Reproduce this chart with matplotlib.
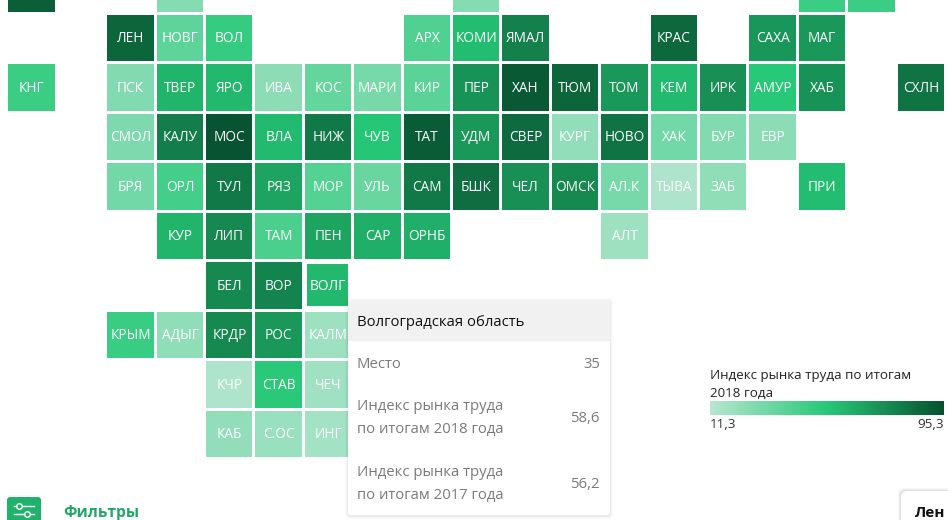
#!/usr/bin/env python3
# -*- coding: utf-8 -*-
"""Tile map: labour market index of Russian regions, 2018"""

import matplotlib
matplotlib.use('Agg')
import matplotlib.pyplot as plt
import numpy as np
from matplotlib.cm import ScalarMappable
from matplotlib.colors import LinearSegmentedColormap, Normalize
from matplotlib.patches import FancyBboxPatch, Rectangle

plt.rcParams['font.family'] = ['Open Sans', 'DejaVu Sans']

__ = None
# grid of regions, one list per map row (the top row is cut off in the picture)
grid_labels = [
    ['', __, __, '', __, __, __, __, __, '', __, __, __, __, __, __, '', '', __],
    [__, __, 'ЛЕН', 'НОВГ', 'ВОЛ', __, __, __, 'АРХ', 'КОМИ', 'ЯМАЛ', __, __, 'КРАС', __, 'САХА', 'МАГ', __, __],
    ['КНГ', __, 'ПСК', 'ТВЕР', 'ЯРО', 'ИВА', 'КОС', 'МАРИ', 'КИР', 'ПЕР', 'ХАН', 'ТЮМ', 'ТОМ', 'КЕМ', 'ИРК', 'АМУР', 'ХАБ', __, 'СХЛН'],
    [__, __, 'СМОЛ', 'КАЛУ', 'МОС', 'ВЛА', 'НИЖ', 'ЧУВ', 'ТАТ', 'УДМ', 'СВЕР', 'КУРГ', 'НОВО', 'ХАК', 'БУР', 'ЕВР', __, __, __],
    [__, __, 'БРЯ', 'ОРЛ', 'ТУЛ', 'РЯЗ', 'МОР', 'УЛЬ', 'САМ', 'БШК', 'ЧЕЛ', 'ОМСК', 'АЛ.К', 'ТЫВА', 'ЗАБ', __, 'ПРИ', __, __],
    [__, __, __, 'КУР', 'ЛИП', 'ТАМ', 'ПЕН', 'САР', 'ОРНБ', __, __, __, 'АЛТ', __, __, __, __, __, __],
    [__, __, __, __, 'БЕЛ', 'ВОР', 'ВОЛГ', __, __, __, __, __, __, __, __, __, __, __, __],
    [__, __, 'КРЫМ', 'АДЫГ', 'КРДР', 'РОС', 'КАЛМ', __, __, __, __, __, __, __, __, __, __, __, __],
    [__, __, __, __, 'КЧР', 'СТАВ', 'ЧЕЧ', __, __, __, __, __, __, __, __, __, __, __, __],
    [__, __, __, __, 'КАБ', 'С.ОС', 'ИНГ', __, __, __, __, __, __, __, __, __, __, __, __],
]
grid_values = [
    [90, __, __, 26, __, __, __, __, __, 26, __, __, __, __, __, __, 47, 47, __],
    [__, __, 88, 37, 49, __, __, __, 41, 57, 78, __, __, 87, __, 71, 70, __, __],
    [47, __, 27, 60, 59, 24, 35, 30, 38, 72, 92, 88, 70, 58, 73, 53, 72, __, 83],
    [__, __, 28, 79, 94, 58, 81, 54, 91, 70, 86, 22, 83, 31, 27, 24, __, __, __],
    [__, __, 31, 45, 81, 66, 40, 34, 81, 85, 73, 75, 30, 14, 23, __, 57, __, __],
    [__, __, __, 60, 75, 43, 66, 62, 62, __, __, __, 19, __, __, __, __, __, __],
    [__, __, __, __, 75, 77, 58.6, __, __, __, __, __, __, __, __, __, __, __, __],
    [__, __, 48, 23, 75, 70, 19, __, __, __, __, __, __, __, __, __, __, __, __],
    [__, __, __, __, 14, 52, 18, __, __, __, __, __, __, __, __, __, __, __, __],
    [__, __, __, __, 22, 20, 17, __, __, __, __, __, __, __, __, __, __, __, __],
]

scale_min, scale_max = 11.3, 95.3
scale_title = ['Индекс рынка труда по итогам', '2018 года']
scale_labels = ['11,3', '95,3']

tooltip_title = 'Волгоградская область'
tooltip_place = ('Место', '35')
tooltip_2018 = (['Индекс рынка труда', 'по итогам 2018 года'], '58,6')
tooltip_2017 = (['Индекс рынка труда', 'по итогам 2017 года'], '56,2')
filters_label = 'Фильтры'
card_label = 'Лен'

cmap = LinearSegmentedColormap.from_list('index', ['#b7e6d1', '#26c877', '#07502f'])
norm = Normalize(scale_min, scale_max)

fig = plt.figure(figsize=(9.48, 5.20), dpi=100)

# tile grid, axes in grid units so one cell = 49.4 x 49.5 px
ax = fig.add_axes([0, 0, 1, 1])
ax.set_xlim(-6.3 / 49.4, (948 - 6.3) / 49.4)
ax.set_ylim((520 + 37) / 49.5, 37 / 49.5)
ax.axis('off')

data = np.ma.masked_invalid(np.array(grid_values, dtype=float))
ax.pcolormesh(np.arange(data.shape[1] + 1), np.arange(data.shape[0] + 1), data,
              cmap=cmap, norm=norm, edgecolors='white', linewidth=1.0)

for r, row in enumerate(grid_labels):
    for c, label in enumerate(row):
        if label:
            ax.text(c + 0.515, r + 0.49, label, color='white', fontsize=9.8,
                    ha='center', va='center_baseline', clip_on=True)

# hovered region gets a thicker white border, drawn inward only
hover = Rectangle((6, 6), 1, 1, fill=False, edgecolor='white', linewidth=5.8)
ax.add_patch(hover)
hover.set_clip_path(hover)

# everything else is placed in pixels on a second layer
ov = fig.add_axes([0, 0, 1, 1], zorder=3)
ov.set_xlim(0, 948)
ov.set_ylim(520, 0)
ov.axis('off')
ov.patch.set_alpha(0)

# tooltip with a soft shadow
for grow, alpha in [(3, 0.015), (2, 0.025), (1, 0.04)]:
    ov.add_patch(FancyBboxPatch((348 - grow, 300 - grow + 1), 262 + 2 * grow, 215 + 2 * grow,
                                boxstyle='round,pad=0,rounding_size=4', fc='black', ec='none', alpha=alpha))
ov.add_patch(FancyBboxPatch((348, 300), 262, 215, boxstyle='round,pad=0,rounding_size=3', fc='white', ec='none'))
ov.add_patch(FancyBboxPatch((348, 300), 262, 41, boxstyle='round,pad=0,rounding_size=3', fc='#f1f1f1', ec='none'))
ov.add_patch(Rectangle((348, 330), 262, 11, fc='#f1f1f1', ec='none'))

grey = '#7a7a7a'
ov.text(357, 322, tooltip_title, color='#111111', fontsize=10.7, va='center')
ov.text(357, 364, tooltip_place[0], color=grey, fontsize=10.7, va='center')
ov.text(600, 364, tooltip_place[1], color=grey, fontsize=10.7, va='center', ha='right')
for (lines, val), y in [(tooltip_2018, 406), (tooltip_2017, 472)]:
    ov.text(357, y, lines[0], color=grey, fontsize=10.7, va='center')
    ov.text(357, y + 23, lines[1], color=grey, fontsize=10.7, va='center')
    ov.text(600, y + 12, val, color=grey, fontsize=10.7, va='center', ha='right')

# colour scale
ov.text(710, 375, scale_title[0], color='#222222', fontsize=9.6, va='center')
ov.text(710, 393, scale_title[1], color='#222222', fontsize=9.6, va='center')
cax = fig.add_axes([710 / 948, 1 - 415 / 520, 234 / 948, 14 / 520], zorder=4)
cbar = fig.colorbar(ScalarMappable(norm=norm, cmap=cmap), cax=cax, orientation='horizontal')
cbar.outline.set_visible(False)
cbar.set_ticks([])
ov.text(710, 425, scale_labels[0], color='#333333', fontsize=9.7, va='center')
ov.text(944, 425, scale_labels[1], color='#333333', fontsize=9.7, va='center', ha='right')

# filter button, cut by the bottom edge
ov.add_patch(FancyBboxPatch((7, 497), 34, 40, boxstyle='round,pad=0,rounding_size=3', fc='#1fb26b', ec='none'))
for y, knob in [(506, 19), (514, 27)]:
    ov.plot([14, 34], [y, y], color='white', lw=1)
    ov.plot([knob], [y], 'o', ms=4, mfc='#1fb26b', mec='white', mew=1)
ov.text(63, 513, filters_label, color='#1fa866', fontsize=11.2, fontweight='bold', va='center')

# card at the lower right, cut by the edges
for grow, alpha in [(3, 0.03), (2, 0.04), (1, 0.06)]:
    ov.add_patch(FancyBboxPatch((901 - grow, 491 - grow), 70, 60, boxstyle='round,pad=0,rounding_size=6',
                                fc='black', ec='none', alpha=alpha))
ov.add_patch(FancyBboxPatch((901, 491), 70, 60, boxstyle='round,pad=0,rounding_size=6', fc='white', ec='none'))
ov.text(915, 513, card_label, color='#111111', fontsize=11, fontweight='bold', va='center')

plt.savefig('out.png', dpi=100)
